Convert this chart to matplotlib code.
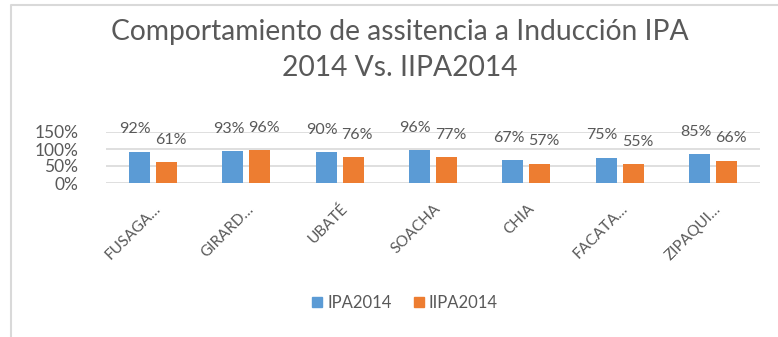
import matplotlib.pyplot as plt
import numpy as np
from matplotlib.lines import Line2D
from matplotlib.patches import Patch
from matplotlib.transforms import offset_copy

# --- data ---
municipios = ["FUSAGA…", "GIRARD…", "UBATÉ", "SOACHA", "CHIA", "FACATA…", "ZIPAQUI…"]
ipa_2014 = [92, 93, 90, 96, 67, 75, 85]
iipa_2014 = [61, 96, 76, 77, 57, 55, 66]
yticks = [0, 50, 100, 150]

BLUE = "#5B9BD5"
ORANGE = "#ED7D31"
GRID = "#D9D9D9"
TEXT = "#595959"

plt.rcParams['font.family'] = ['Lato', 'DejaVu Sans']

W, H = 778, 337
fig = plt.figure(figsize=(W / 100, H / 100), dpi=100)
ax = fig.add_axes([106 / W, 1 - 183 / H, (760 - 106) / W, (183 - 132) / H])

x = np.arange(len(municipios))
bw = 0.225
off = 0.145
ax.bar(x - off, ipa_2014, width=bw, color=BLUE, zorder=3)
ax.bar(x + off, iipa_2014, width=bw, color=ORANGE, zorder=3)

# value labels sit a fixed distance above each bar, nudged apart sideways
for xs, vals, dx in ((x - off, ipa_2014, -3), (x + off, iipa_2014, 3)):
    for xi, v in zip(xs, vals):
        ax.annotate(f"{v}%", (xi, v), xytext=(dx, 16), textcoords="offset points",
                    ha="center", va="center", fontsize=11.5, color=TEXT, zorder=4)

ax.set_xlim(-0.5, len(municipios) - 0.5)
ax.set_ylim(0, 150)
ax.set_yticks(yticks)
ax.set_yticklabels([f"{t}%" for t in yticks], fontsize=12.5, color=TEXT)
for t in yticks:
    ax.axhline(t, color=GRID, lw=1.2, zorder=1)

ax.set_xticks(x)
ax.set_xticklabels(municipios, rotation=45, ha="right", va="center",
                   rotation_mode="anchor", fontsize=11, color=TEXT)
ax.tick_params(axis="x", length=0, pad=17)
ax.tick_params(axis="y", length=0, pad=20)
for lbl in ax.get_xticklabels():
    lbl.set_transform(offset_copy(lbl.get_transform(), fig=fig, x=4, y=0, units="points"))
for s in ax.spines.values():
    s.set_visible(False)
ax.patch.set_alpha(0)

fig.text(0.514, 1 - 32 / H, "Comportamiento de assitencia a Inducción IPA",
         ha="center", va="center", fontsize=20.3, color=TEXT)
fig.text(0.514, 1 - 68 / H, "2014 Vs. IIPA2014",
         ha="center", va="center", fontsize=20.3, color=TEXT)

handles = [Patch(color=BLUE, label="IPA2014"), Patch(color=ORANGE, label="IIPA2014")]
fig.legend(handles=handles, loc="center", bbox_to_anchor=(405 / W, 1 - 303 / H),
           ncol=2, frameon=False, fontsize=12, handlelength=0.6, handleheight=0.6,
           handletextpad=0.3, columnspacing=1.3, labelcolor=TEXT)

# chart border (left and top edges)
fig.add_artist(Line2D([11 / W, 11 / W, 1], [0, 1 - 5 / H, 1 - 5 / H],
                      transform=fig.transFigure, color=GRID, lw=1.5))

fig.savefig("out.png", dpi=100)
